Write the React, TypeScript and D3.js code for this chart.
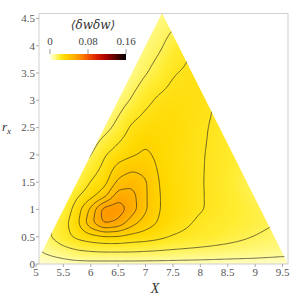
import React, { useMemo } from "react";
import * as d3 from "d3";

// Grid of <δw δw> (columns X, rows r_x)
const xGrid = [5.0, 5.25, 5.5, 5.75, 6.0, 6.25, 6.5, 6.75, 7.0, 7.25, 7.5, 8.0, 8.5, 9.0, 9.6];
const rGrid = [0, 0.1, 0.25, 0.5, 0.75, 1.0, 1.25, 1.5, 2.0, 2.5, 3.0, 3.5, 4.0, 4.6];
const dwdw = [
  [0.001, 0.002, 0.003, 0.003, 0.0035, 0.0035, 0.0035, 0.0035, 0.0035, 0.0035, 0.0035, 0.0035, 0.003, 0.003, 0.002],
  [0.005, 0.0065, 0.0085, 0.0112, 0.0115, 0.0115, 0.0115, 0.0115, 0.0113, 0.011, 0.0105, 0.0098, 0.009, 0.0082, 0.007],
  [0.007, 0.0105, 0.0135, 0.0155, 0.0165, 0.017, 0.017, 0.017, 0.0165, 0.016, 0.0155, 0.0145, 0.0135, 0.0125, 0.011],
  [0.01, 0.0155, 0.021, 0.026, 0.029, 0.031, 0.031, 0.029, 0.028, 0.026, 0.0235, 0.021, 0.0185, 0.0158, 0.013],
  [0.012, 0.0155, 0.021, 0.03, 0.046, 0.058, 0.054, 0.043, 0.036, 0.031, 0.0275, 0.0225, 0.02, 0.018, 0.015],
  [0.01, 0.014, 0.018, 0.028, 0.042, 0.061, 0.061, 0.052, 0.041, 0.032, 0.029, 0.0245, 0.021, 0.018, 0.014],
  [0.008, 0.011, 0.015, 0.023, 0.029, 0.037, 0.053, 0.051, 0.041, 0.032, 0.029, 0.0245, 0.021, 0.0165, 0.013],
  [0.007, 0.009, 0.012, 0.0165, 0.0245, 0.029, 0.042, 0.046, 0.041, 0.0315, 0.0285, 0.0245, 0.0205, 0.015, 0.012],
  [0.005, 0.007, 0.009, 0.012, 0.0155, 0.0235, 0.028, 0.031, 0.0335, 0.03, 0.028, 0.0245, 0.0215, 0.017, 0.013],
  [0.004, 0.005, 0.006, 0.007, 0.009, 0.013, 0.0185, 0.0255, 0.028, 0.029, 0.0285, 0.025, 0.0215, 0.016, 0.012],
  [0.003, 0.004, 0.004, 0.005, 0.006, 0.008, 0.012, 0.0168, 0.022, 0.0255, 0.027, 0.026, 0.022, 0.016, 0.012],
  [0.003, 0.003, 0.004, 0.004, 0.005, 0.006, 0.007, 0.011, 0.0155, 0.019, 0.0235, 0.0265, 0.021, 0.016, 0.012],
  [0.003, 0.003, 0.003, 0.004, 0.005, 0.006, 0.007, 0.009, 0.012, 0.0148, 0.019, 0.026, 0.019, 0.015, 0.011],
  [0.003, 0.003, 0.003, 0.004, 0.004, 0.005, 0.006, 0.008, 0.009, 0.011, 0.013, 0.016, 0.015, 0.013, 0.01],
];
const contourLevels = [0.008, 0.016, 0.024, 0.032, 0.04, 0.048, 0.056];
const xTicks = [5, 5.5, 6, 6.5, 7, 7.5, 8, 8.5, 9, 9.5];
const yTicks = [0, 0.5, 1, 1.5, 2, 2.5, 3, 3.5, 4, 4.5];
const legendTicks = [0, 0.08, 0.16];
const colorStops = [0, 0.01, 0.02, 0.03, 0.045, 0.06, 0.08, 0.1, 0.12, 0.14, 0.16];
const colorRamp = ["#ffffe6", "#fffb90", "#ffec30", "#ffd800", "#ffbc00", "#ff9800", "#f25500", "#d81a00", "#a00000", "#520000", "#000000"];
const triangleX = [5, 9.6, 7.3];
const triangleR = [0, 0, 4.6];

const X0 = 5, X1 = 9.6, R0 = 0, R1 = 4.6;
const STEP = 0.02;

function sample(x: number, r: number) {
  const nx = xGrid.length, nr = rGrid.length;
  let i = Math.max(0, Math.min(nx - 2, d3.bisectRight(xGrid, x) - 1));
  let j = Math.max(0, Math.min(nr - 2, d3.bisectRight(rGrid, r) - 1));
  const tx = Math.max(0, Math.min(1, (x - xGrid[i]) / (xGrid[i + 1] - xGrid[i])));
  const ty = Math.max(0, Math.min(1, (r - rGrid[j]) / (rGrid[j + 1] - rGrid[j])));
  const a = dwdw[j][i] * (1 - tx) + dwdw[j][i + 1] * tx;
  const b = dwdw[j + 1][i] * (1 - tx) + dwdw[j + 1][i + 1] * tx;
  return a * (1 - ty) + b * ty;
}

export default function App() {
  const xs = d3.scaleLinear().domain([X0, X1]).range([36, 288]);
  const ys = d3.scaleLinear().domain([R0, R1]).range([264, 13]);
  const color = d3
    .scaleLinear<string>()
    .domain(colorStops)
    .range(colorRamp)
    .interpolate(d3.interpolateRgb)
    .clamp(true);

  const { url, paths } = useMemo(() => {
    const nx = Math.round((X1 - X0) / STEP) + 1;
    const ny = Math.round((R1 - R0) / STEP) + 1;
    const vals = new Float64Array(nx * ny);
    for (let j = 0; j < ny; j++) {
      const r = R1 - j * STEP;
      for (let i = 0; i < nx; i++) {
        vals[j * nx + i] = sample(X0 + i * STEP, r);
      }
    }
    d3.blur2({ data: vals, width: nx, height: ny }, 2);
    const canvas = document.createElement("canvas");
    canvas.width = nx;
    canvas.height = ny;
    const ctx = canvas.getContext("2d")!;
    const img = ctx.createImageData(nx, ny);
    for (let k = 0; k < nx * ny; k++) {
      const c = d3.rgb(color(vals[k]));
      img.data[4 * k] = c.r;
      img.data[4 * k + 1] = c.g;
      img.data[4 * k + 2] = c.b;
      img.data[4 * k + 3] = 255;
    }
    ctx.putImageData(img, 0, 0);
    const conts = d3.contours().size([nx, ny]).thresholds(contourLevels)(Array.from(vals));
    const proj = d3.geoTransform({
      point: function (x: number, y: number) {
        (this as any).stream.point(xs(X0 + (x - 0.5) * STEP), ys(R1 - (y - 0.5) * STEP));
      },
    });
    const gp = d3.geoPath(proj as any);
    return { url: canvas.toDataURL(), paths: conts.map((c) => gp(c as any) || "") };
  }, []);

  const tri = triangleX.map((x, i) => `${xs(x)},${ys(triangleR[i])}`).join(" ");
  const legendScale = d3.scaleLinear().domain([0, 0.16]).range([50, 126]);
  const gradStops = d3.range(0, 41).map((k) => (k / 40) * 0.16);

  const frameL = 39, frameR = 288, frameT = 13.5, frameB = 264;
  const tickFont = "'Liberation Serif', 'Times New Roman', serif";

  return (
    <svg width={293} height={302} style={{ position: "absolute", left: 0, top: 0, background: "#fff" }}>
      <defs>
        <clipPath id="tri">
          <polygon points={tri} />
        </clipPath>
        <clipPath id="frame">
          <rect x={frameL} y={frameT} width={frameR - frameL} height={frameB - frameT} />
        </clipPath>
        <linearGradient id="cbar" x1="0" x2="1" y1="0" y2="0">
          {gradStops.map((v, k) => (
            <stop key={k} offset={`${(k / 40) * 100}%`} stopColor={color(v)} />
          ))}
        </linearGradient>
      </defs>
      <g clipPath="url(#frame)">
        <g clipPath="url(#tri)">
          <image
            href={url}
            x={xs(X0 - STEP / 2)}
            y={ys(R1 + STEP / 2)}
            width={xs(X1 + STEP / 2) - xs(X0 - STEP / 2)}
            height={ys(R0 - STEP / 2) - ys(R1 + STEP / 2)}
            preserveAspectRatio="none"
          />
          {paths.map((d, k) => (
            <path key={k} d={d} fill="none" stroke="#2a2a1a" strokeWidth={0.8} strokeOpacity={0.85} />
          ))}
        </g>
      </g>
      <rect x={frameL} y={frameT} width={frameR - frameL} height={frameB - frameT} fill="none" stroke="#cfcfcf" strokeWidth={1} />
      {yTicks.map((t) => (
        <g key={t}>
          <line x1={frameL - 3} x2={frameL} y1={ys(t)} y2={ys(t)} stroke="#aaa" />
          <text x={frameL - 4} y={ys(t) + 3.8} textAnchor="end" fontSize={11} fontFamily={tickFont} fill="#555">
            {String(t)}
          </text>
        </g>
      ))}
      {xTicks.map((t) => (
        <g key={t}>
          <line x1={xs(t)} x2={xs(t)} y1={frameB} y2={frameB + 3} stroke="#aaa" />
          <text x={xs(t)} y={frameB + 12} textAnchor="middle" fontSize={11} fontFamily={tickFont} fill="#555">
            {String(t)}
          </text>
        </g>
      ))}
      <text x={155} y={293} textAnchor="middle" fontSize={14} fontStyle="italic" fontFamily={tickFont} fill="#333">
        X
      </text>
      <text x={2} y={131} fontSize={13} fontStyle="italic" fontFamily={tickFont} fill="#333">
        r<tspan fontSize={9} dy={3}>x</tspan>
      </text>
      {/* legend */}
      <text x={93} y={29} textAnchor="middle" fontSize={12} fontStyle="italic" fontFamily="'DejaVu Serif', serif" fill="#333">
        ⟨δwδw⟩
      </text>
      <rect x={legendScale(0)} y={54} width={legendScale(0.16) - legendScale(0)} height={6} fill="url(#cbar)" />
      {legendTicks.map((t) => (
        <g key={t}>
          <line x1={legendScale(t)} x2={legendScale(t)} y1={49} y2={54} stroke="#999" />
          <text x={legendScale(t)} y={45} textAnchor="middle" fontSize={11} fontFamily={tickFont} fill="#444">
            {String(t)}
          </text>
        </g>
      ))}
    </svg>
  );
}
